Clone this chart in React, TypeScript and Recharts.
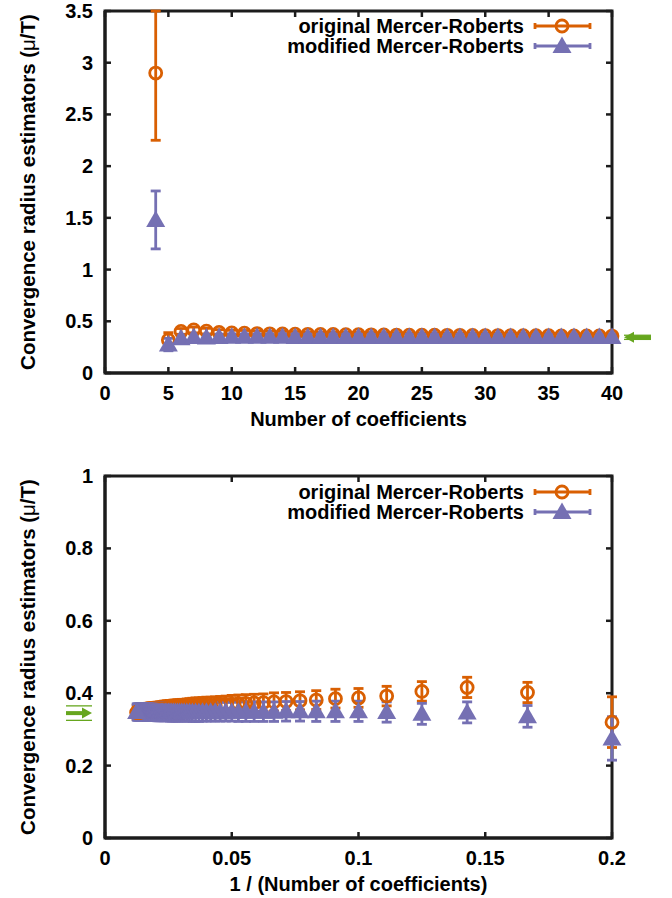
import React from "react";
import {
  ErrorBar,
  ReferenceArea,
  ReferenceDot,
  Scatter,
  ScatterChart,
  XAxis,
  YAxis,
} from "recharts";

const ORANGE = "#d95f02";
const PURPLE = "#7570b3";
const GREEN = "#66a61e";
const INK = "#000";
const FRAME = "#1c1c1c";
const FONT = '"Liberation Sans", Arial, Helvetica, sans-serif';

// number of coefficients in the series
const coefficients = [
  4, 5, 6, 7, 8, 9,
  10, 11, 12, 13, 14, 15, 16, 17, 18, 19,
  20, 21, 22, 23, 24, 25, 26, 27, 28, 29,
  30, 31, 32, 33, 34, 35, 36, 37, 38, 39,
  40, 41, 42, 43, 44, 45, 46, 47, 48, 49,
  50, 51, 52, 53, 54, 55, 56, 57, 58, 59,
  60, 61, 62, 63, 64, 65, 66, 67, 68, 69,
  70, 71, 72, 73, 74, 75, 76, 77, 78, 79,
  80,
];

const originalMR = [
  2.9, 0.32, 0.402, 0.416, 0.405, 0.392,
  0.387, 0.385, 0.381, 0.379, 0.377, 0.376, 0.374, 0.373, 0.372, 0.371,
  0.37, 0.369, 0.368, 0.367, 0.366, 0.366, 0.365, 0.364, 0.364, 0.363,
  0.362, 0.362, 0.361, 0.361, 0.36, 0.36, 0.359, 0.359, 0.358, 0.358,
  0.357, 0.357, 0.356, 0.356, 0.355, 0.355, 0.355, 0.354, 0.354, 0.354,
  0.353, 0.353, 0.353, 0.352, 0.352, 0.352, 0.352, 0.351, 0.351, 0.351,
  0.351, 0.35, 0.35, 0.35, 0.35, 0.35, 0.349, 0.349, 0.349, 0.349,
  0.349, 0.348, 0.348, 0.348, 0.348, 0.348, 0.348, 0.347, 0.347, 0.347,
  0.347,
];

const originalErr = [
  0.65, 0.07, 0.028, 0.028, 0.027, 0.027,
  0.026, 0.026, 0.026, 0.025, 0.025, 0.025, 0.024, 0.024, 0.024, 0.024,
  0.024, 0.023, 0.023, 0.023, 0.023, 0.023, 0.023, 0.023, 0.023, 0.023,
  0.023, 0.022, 0.022, 0.022, 0.022, 0.022, 0.022, 0.022, 0.022, 0.022,
  0.022, 0.022, 0.022, 0.022, 0.022, 0.021, 0.021, 0.021, 0.021, 0.021,
  0.021, 0.021, 0.021, 0.021, 0.021, 0.021, 0.021, 0.021, 0.021, 0.021,
  0.02, 0.02, 0.02, 0.02, 0.02, 0.02, 0.02, 0.02, 0.02, 0.02,
  0.02, 0.02, 0.02, 0.02, 0.02, 0.019, 0.019, 0.019, 0.019, 0.019,
  0.019,
];

const modifiedMR = [
  1.48, 0.275, 0.336, 0.347, 0.343, 0.348,
  0.35, 0.35, 0.35, 0.35, 0.35, 0.349, 0.349, 0.349, 0.349, 0.349,
  0.349, 0.349, 0.349, 0.349, 0.349, 0.349, 0.349, 0.348, 0.348, 0.348,
  0.348, 0.348, 0.348, 0.348, 0.348, 0.348, 0.348, 0.348, 0.348, 0.348,
  0.348, 0.348, 0.348, 0.348, 0.348, 0.348, 0.348, 0.348, 0.348, 0.348,
  0.348, 0.348, 0.348, 0.348, 0.348, 0.348, 0.348, 0.348, 0.348, 0.348,
  0.348, 0.348, 0.348, 0.348, 0.348, 0.348, 0.348, 0.348, 0.348, 0.348,
  0.348, 0.348, 0.348, 0.348, 0.348, 0.348, 0.348, 0.348, 0.348, 0.348,
  0.348,
];

const modifiedErr = [
  0.28, 0.06, 0.03, 0.029, 0.029, 0.028,
  0.028, 0.028, 0.028, 0.027, 0.027, 0.027, 0.027, 0.027, 0.027, 0.027,
  0.026, 0.026, 0.026, 0.026, 0.026, 0.026, 0.026, 0.026, 0.026, 0.026,
  0.025, 0.025, 0.025, 0.025, 0.025, 0.025, 0.025, 0.025, 0.025, 0.025,
  0.024, 0.024, 0.024, 0.024, 0.024, 0.024, 0.024, 0.024, 0.024, 0.024,
  0.023, 0.023, 0.023, 0.023, 0.023, 0.023, 0.023, 0.023, 0.023, 0.023,
  0.023, 0.023, 0.023, 0.023, 0.023, 0.022, 0.022, 0.022, 0.022, 0.022,
  0.022, 0.022, 0.022, 0.022, 0.022, 0.022, 0.022, 0.022, 0.022, 0.022,
  0.022,
];

// exact radius (green arrow) and its uncertainty
const exactRadius = 0.345;
const exactErr = 0.02;

const topXTicks = [0, 5, 10, 15, 20, 25, 30, 35, 40];
const topYTicks = [0, 0.5, 1, 1.5, 2, 2.5, 3, 3.5];
const bottomXTicks = [0, 0.05, 0.1, 0.15, 0.2];
const bottomYTicks = [0, 0.2, 0.4, 0.6, 0.8, 1];

const legendItems = [
  { label: "original Mercer-Roberts", color: ORANGE, marker: "circle" },
  { label: "modified Mercer-Roberts", color: PURPLE, marker: "triangle" },
];

type Row = { x: number; y: number; err: [number, number] };

// keep points inside the x range; error bars are cut at the top of the frame
function buildRows(
  values: number[],
  errs: number[],
  toX: (n: number) => number,
  xMax: number,
  yMax: number
): Row[] {
  return coefficients
    .map((n, i) => ({
      x: toX(n),
      y: values[i],
      err: [errs[i], Math.min(errs[i], yMax - values[i])] as [number, number],
    }))
    .filter((r) => r.x <= xMax + 1e-9);
}

const CHART_W = 672;
const PLOT_LEFT = 105;
const PLOT_RIGHT_MARGIN = 60;
const PLOT_W = CHART_W - PLOT_LEFT - PLOT_RIGHT_MARGIN;

const textStyle = { fontFamily: FONT, fontWeight: 700, fontSize: 20, fill: INK };

const OpenCircle = (p: any) => (
  <circle cx={p.cx} cy={p.cy} r={6} fill="none" stroke={ORANGE} strokeWidth={2.8} />
);

const Triangle = (p: any) => (
  <path
    d={`M${p.cx},${p.cy - 9.5} L${p.cx + 9.5},${p.cy + 7} L${p.cx - 9.5},${p.cy + 7} Z`}
    fill={PURPLE}
  />
);

// bottom tick: inward mark on the bottom and the mirrored one on the top border
const BottomTick = ({ x, y, payload, plotH }: any) => (
  <g>
    <line x1={x} x2={x} y1={y} y2={y - 6} stroke={FRAME} strokeWidth={2.5} />
    <line x1={x} x2={x} y1={y - plotH} y2={y - plotH + 6} stroke={FRAME} strokeWidth={2.5} />
    <text x={x} y={y + 27} textAnchor="middle" style={textStyle}>
      {payload.value}
    </text>
  </g>
);

// left tick: inward mark on the left and the mirrored one on the right border
const LeftTick = ({ x, y, payload }: any) => (
  <g>
    <line x1={x} x2={x + 6} y1={y} y2={y} stroke={FRAME} strokeWidth={2.5} />
    <line x1={x + PLOT_W} x2={x + PLOT_W - 6} y1={y} y2={y} stroke={FRAME} strokeWidth={2.5} />
    <text x={x - 12} y={y + 7} textAnchor="end" style={textStyle}>
      {payload.value}
    </text>
  </g>
);

const YTitle = ({ viewBox }: any) => {
  const cy = viewBox ? viewBox.y + viewBox.height / 2 : 0;
  const x = 28;
  return (
    <text
      x={x}
      y={cy}
      dy={7}
      transform={`rotate(-90, ${x}, ${cy})`}
      textAnchor="middle"
      style={{ ...textStyle, fontSize: 20.5 }}
    >
      Convergence radius estimators (<tspan fontWeight={400}>μ</tspan>/T)
    </text>
  );
};

const XTitle = ({ viewBox, text }: any) => {
  const cx = viewBox ? viewBox.x + viewBox.width / 2 : 0;
  const y = viewBox ? viewBox.y + 53 : 0;
  return (
    <text x={cx} y={y} textAnchor="middle" style={textStyle}>
      {text}
    </text>
  );
};

// exact value marker drawn outside the frame
const ExactArrow = ({ cx, cy, dir }: any) => {
  if (dir === "left") {
    const tip = cx + 12;
    return (
      <g>
        <line x1={tip + 8} x2={tip + 27} y1={cy} y2={cy} stroke={GREEN} strokeWidth={4} />
        <path d={`M${tip},${cy} L${tip + 10},${cy - 5.5} L${tip + 10},${cy + 5.5} Z`} fill={GREEN} />
      </g>
    );
  }
  const tip = cx - 13;
  return (
    <g>
      <line x1={tip - 26} x2={tip - 8} y1={cy} y2={cy} stroke={GREEN} strokeWidth={4} />
      <path d={`M${tip},${cy} L${tip - 10},${cy - 5.5} L${tip - 10},${cy + 5.5} Z`} fill={GREEN} />
    </g>
  );
};

const ExactBand = ({ cx, cy, dir }: any) => {
  const [a, b] = dir === "left" ? [cx + 12, cx + 39] : [cx - 39, cx - 13];
  return <line x1={a} x2={b} y1={cy} y2={cy} stroke={GREEN} strokeWidth={1.3} />;
};

function Legend({ top }: { top: number }) {
  return (
    <svg
      width={CHART_W}
      height={44}
      style={{ position: "absolute", left: 0, top, overflow: "visible" }}
    >
      {legendItems.map((item, i) => {
        const y = 10 + i * 20;
        return (
          <g key={item.label}>
            <text x={524} y={y + 7} textAnchor="end" style={textStyle}>
              {item.label}
            </text>
            <line x1={535} x2={590} y1={y} y2={y} stroke={item.color} strokeWidth={2.8} />
            <line x1={535} x2={535} y1={y - 3} y2={y + 3} stroke={item.color} strokeWidth={2.8} />
            <line x1={590} x2={590} y1={y - 3} y2={y + 3} stroke={item.color} strokeWidth={2.8} />
            {item.marker === "circle" ? (
              <circle cx={562} cy={y} r={6} fill="none" stroke={item.color} strokeWidth={2.8} />
            ) : (
              <path d={`M562,${y - 9.5} L571.5,${y + 7} L552.5,${y + 7} Z`} fill={item.color} />
            )}
          </g>
        );
      })}
    </svg>
  );
}

interface PanelProps {
  original: Row[];
  modified: Row[];
  height: number;
  marginTop: number;
  xAxisHeight: number;
  xDomain: [number, number];
  yDomain: [number, number];
  xTicks: number[];
  yTicks: number[];
  xTitle: string;
  arrowX: number;
  arrowDir: "left" | "right";
}

function Panel(p: PanelProps) {
  const plotH = p.height - p.marginTop - p.xAxisHeight;
  return (
    <ScatterChart
      width={CHART_W}
      height={p.height}
      margin={{ top: p.marginTop, right: PLOT_RIGHT_MARGIN, bottom: 0, left: 0 }}
    >
      <XAxis
        type="number"
        dataKey="x"
        domain={p.xDomain}
        ticks={p.xTicks}
        interval={0}
        height={p.xAxisHeight}
        tickSize={0}
        tickMargin={0}
        tickLine={false}
        axisLine={{ stroke: FRAME, strokeWidth: 3 }}
        tick={(t: any) => <BottomTick {...t} plotH={plotH} />}
        label={<XTitle text={p.xTitle} />}
      />
      <YAxis
        type="number"
        dataKey="y"
        domain={p.yDomain}
        ticks={p.yTicks}
        interval={0}
        width={PLOT_LEFT}
        tickSize={0}
        tickMargin={0}
        tickLine={false}
        axisLine={{ stroke: FRAME, strokeWidth: 3 }}
        tick={(t: any) => <LeftTick {...t} />}
        label={<YTitle />}
      />
      <Scatter data={p.original} shape={OpenCircle} isAnimationActive={false}>
        <ErrorBar dataKey="err" direction="y" width={5} stroke={ORANGE} strokeWidth={2.8} />
      </Scatter>
      <Scatter data={p.modified} shape={Triangle} isAnimationActive={false}>
        <ErrorBar dataKey="err" direction="y" width={5} stroke={PURPLE} strokeWidth={2.8} />
      </Scatter>
      {/* plot frame */}
      <ReferenceArea
        x1={p.xDomain[0]}
        x2={p.xDomain[1]}
        y1={p.yDomain[0]}
        y2={p.yDomain[1]}
        fill="#fff"
        fillOpacity={0}
        stroke={FRAME}
        strokeWidth={3}
      />
      <ReferenceDot
        x={p.arrowX}
        y={exactRadius + exactErr}
        shape={(s: any) => <ExactBand {...s} dir={p.arrowDir} />}
      />
      <ReferenceDot
        x={p.arrowX}
        y={exactRadius - exactErr}
        shape={(s: any) => <ExactBand {...s} dir={p.arrowDir} />}
      />
      <ReferenceDot
        x={p.arrowX}
        y={exactRadius}
        shape={(s: any) => <ExactArrow {...s} dir={p.arrowDir} />}
      />
    </ScatterChart>
  );
}

export default function App() {
  const topOriginal = buildRows(originalMR, originalErr, (n) => n, 40, 3.5);
  const topModified = buildRows(modifiedMR, modifiedErr, (n) => n, 40, 3.5);
  const botOriginal = buildRows(originalMR, originalErr, (n) => 1 / n, 0.2, 1);
  const botModified = buildRows(modifiedMR, modifiedErr, (n) => 1 / n, 0.2, 1);

  return (
    <div style={{ position: "absolute", left: 0, top: 0, width: CHART_W, height: 898, background: "#fff" }}>
      <div style={{ position: "absolute", left: 0, top: 0, width: CHART_W, height: 440 }}>
        <Panel
          original={topOriginal}
          modified={topModified}
          height={440}
          marginTop={11}
          xAxisHeight={67}
          xDomain={[0, 40]}
          yDomain={[0, 3.5]}
          xTicks={topXTicks}
          yTicks={topYTicks}
          xTitle="Number of coefficients"
          arrowX={40}
          arrowDir="left"
        />
        <Legend top={16} />
      </div>
      <div style={{ position: "absolute", left: 0, top: 440, width: CHART_W, height: 458 }}>
        <Panel
          original={botOriginal}
          modified={botModified}
          height={458}
          marginTop={36}
          xAxisHeight={60}
          xDomain={[0, 0.2]}
          yDomain={[0, 1]}
          xTicks={bottomXTicks}
          yTicks={bottomYTicks}
          xTitle="1 / (Number of coefficients)"
          arrowX={0}
          arrowDir="right"
        />
        <Legend top={42} />
      </div>
    </div>
  );
}
